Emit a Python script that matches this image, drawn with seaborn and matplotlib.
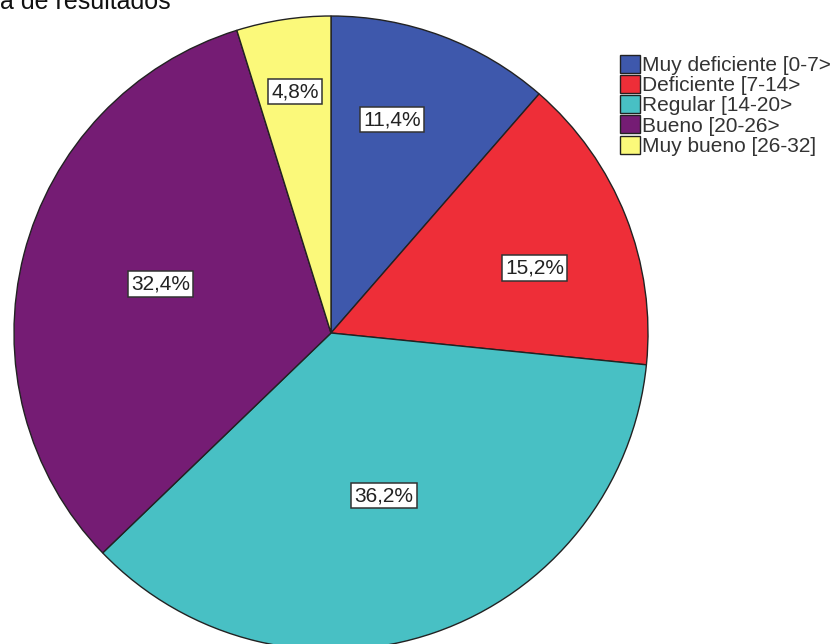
import matplotlib
matplotlib.use("Agg")
import matplotlib.pyplot as plt
import matplotlib.patches as mpatches
import seaborn as sns
import numpy as np

sns.set_theme(style="white")
plt.rcParams['font.family'] = ['Liberation Sans', 'DejaVu Sans']

categories = ["Muy deficiente [0-7>", "Deficiente [7-14>", "Regular [14-20>",
              "Bueno [20-26>", "Muy bueno [26-32]"]
values = [11.4, 15.2, 36.2, 32.4, 4.8]
labels = ["11,4%", "15,2%", "36,2%", "32,4%", "4,8%"]
title = "a de resultados"

colors = ["#3E58AC", "#EE2E38", "#48C0C4", "#751C74", "#FBF97A"]
label_dist = [0.70, 0.675, 0.54, 0.56, 0.77]
label_ang_off = [4.5, -3.9, -1.0, -1.6, -0.2]

fig = plt.figure(figsize=(8.4, 6.44), dpi=100)
ax = fig.add_axes([0, 0, 1, 1])

cx, cy, R = 331, 644 - 333, 317
wedges, _ = ax.pie(values, colors=colors, startangle=90, counterclock=False,
                   center=(cx, cy), radius=R, frame=True,
                   wedgeprops=dict(edgecolor="#222222", linewidth=1.0))
ax.set_xlim(0, 840)
ax.set_ylim(0, 644)
ax.set_aspect("equal")
ax.axis("off")

for w, lab, d, off in zip(wedges, labels, label_dist, label_ang_off):
    ang = np.deg2rad((w.theta1 + w.theta2) / 2 + off)
    x = cx + d * R * np.cos(ang)
    y = cy + d * R * np.sin(ang)
    ax.text(x, y, lab, ha="center", va="center", fontsize=15, color="#222222",
            bbox=dict(boxstyle="square,pad=0.15", fc="white", ec="#333333", lw=1.1))

handles = [mpatches.Patch(facecolor=c, edgecolor="#222222", lw=1.0, label=l)
           for c, l in zip(colors, categories)]
leg = fig.legend(handles=handles, loc="upper left", bbox_to_anchor=(620 / 840, 1 - 55 / 644),
                 frameon=False, fontsize=15, handlelength=0.95, handleheight=0.95,
                 handletextpad=0.1, labelspacing=0.0, borderaxespad=0, borderpad=0)
for t in leg.get_texts():
    t.set_color("#333333")

fig.text(0, 1 - 9 / 644, title, ha="left", va="baseline", fontsize=18, color="#111111")

fig.savefig("out.png", dpi=100, facecolor="white")
